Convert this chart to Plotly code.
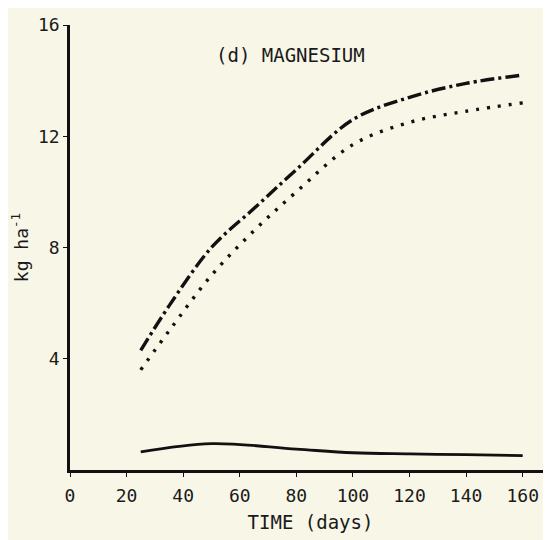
import plotly.graph_objects as go

days = [25, 35, 50, 65, 80, 100, 120, 140, 160]
total_mg = [4.3, 5.9, 8.0, 9.4, 10.8, 12.6, 13.4, 13.9, 14.2]
plant_mg = [3.6, 5.0, 7.0, 8.6, 10.0, 11.7, 12.5, 12.9, 13.2]
solid_days = [25, 50, 80, 100, 120, 140, 160]
soil_mg = [0.65, 0.95, 0.75, 0.62, 0.58, 0.55, 0.52]

xticks = [0, 20, 40, 60, 80, 100, 120, 140, 160]
yticks = [4, 8, 12, 16]

font = "DejaVu Sans Mono"
fig = go.Figure()
fig.add_trace(go.Scatter(x=days, y=total_mg, mode="lines",
                         line=dict(color="#111", width=3.4, dash="14px,4px,3px,4px"),
                         line_shape="spline", showlegend=False))
fig.add_trace(go.Scatter(x=days, y=plant_mg, mode="lines",
                         line=dict(color="#111", width=3.4, dash="3px,8px"),
                         line_shape="spline", showlegend=False))
fig.add_trace(go.Scatter(x=solid_days, y=soil_mg, mode="lines",
                         line=dict(color="#111", width=2.8),
                         line_shape="spline", showlegend=False))

fig.update_layout(
    width=543, height=532,
    margin=dict(l=62, r=0, t=17, b=70),
    paper_bgcolor="#f8f6e7", plot_bgcolor="#f8f6e7",
    font=dict(family=font, color="#1a1a1a", size=18),
    annotations=[dict(text="(d) MAGNESIUM", x=0.30, y=0.933, xref="paper", yref="paper",
                      xanchor="left", yanchor="middle", showarrow=False,
                      font=dict(family=font, size=19, color="#1a1a1a"))],
)
fig.update_xaxes(range=[0, 170], tickvals=xticks, ticktext=[str(v) for v in xticks],
                 showgrid=False, zeroline=False, showline=True, linecolor="#111", linewidth=2.5,
                 ticks="outside", ticklen=4, tickcolor="#111", ticklabelstandoff=4,
                 tickfont=dict(size=18),
                 title=dict(text="TIME (days)", font=dict(size=19), standoff=11))
fig.update_yaxes(range=[0, 16], tickvals=yticks, ticktext=[str(v) for v in yticks],
                 showgrid=False, zeroline=False, showline=True, linecolor="#111", linewidth=2.5,
                 ticks="outside", ticklen=4, tickcolor="#111",
                 tickfont=dict(size=18),
                 title=dict(text="kg ha<sup>-1</sup>", font=dict(size=18), standoff=18))

fig.write_html("out.html")
